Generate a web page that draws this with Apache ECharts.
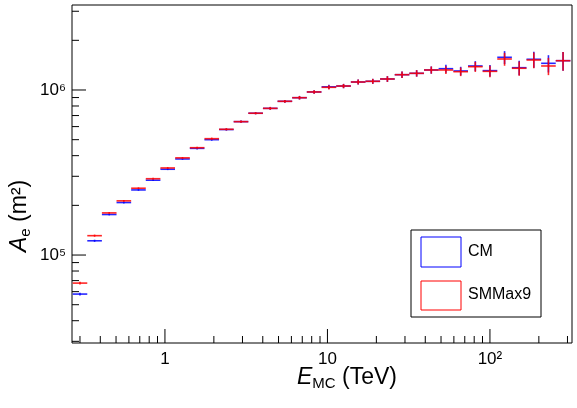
<!DOCTYPE html>
<html><head><meta charset="utf-8">
<script src="https://cdn.jsdelivr.net/npm/echarts@6/dist/echarts.min.js"></script>
<style>html,body{margin:0;padding:0;background:#fff}#c{width:577px;height:408px}</style>
</head><body><div id="c"></div>
<script>
// bin centres, log10(E_MC / TeV)
var logE = [-0.523,-0.433,-0.343,-0.253,-0.163,-0.073,0.017,0.108,0.198,0.288,0.378,0.468,0.558,0.648,0.738,0.828,0.918,1.009,1.099,1.189,1.279,1.369,1.459,1.549,1.639,1.729,1.820,1.910,2.000,2.090,2.180,2.270,2.360,2.450];
// effective area (m^2)
var areaCM = [58000,122000,176000,208000,248000,284000,331000,382000,443000,500000,576000,643000,723000,774000,854000,898000,973000,1045000,1057000,1118000,1129000,1166000,1238000,1262000,1322000,1346000,1304000,1398000,1310000,1578000,1365000,1535000,1451000,1505000];
var areaSMM = [67600,131000,180000,213000,254000,290000,337000,388000,447000,507000,578000,643000,723000,774000,854000,898000,973000,1038000,1057000,1118000,1129000,1166000,1238000,1262000,1322000,1322000,1291000,1384000,1297000,1541000,1354000,1520000,1398000,1505000];
// relative statistical error
var relErr = [0.02,0.015,0.012,0.012,0.012,0.012,0.012,0.012,0.015,0.015,0.015,0.015,0.015,0.02,0.02,0.025,0.025,0.03,0.03,0.035,0.035,0.04,0.045,0.045,0.05,0.055,0.06,0.07,0.08,0.09,0.1,0.11,0.12,0.13];
var xTickMajor = [0,1,2];
var xTickLabels = ['1','10','10²'];
var yTickMajor = [5,6];
var yTickLabels = ['10⁵','10⁶'];
var halfBin = 0.045;

var chart = echarts.init(document.getElementById('c'));

function series(name, vals, color, z) {
  return {
    name: name, type: 'custom', z: z,
    data: logE.map(function (x, i) { return [x, Math.log10(vals[i]), Math.log10(1 + relErr[i]), Math.log10(1 - relErr[i])]; }),
    renderItem: function (params, api) {
      var x = api.value(0), y = api.value(1);
      var a = api.coord([x - halfBin, y]), b = api.coord([x + halfBin, y]);
      var t = api.coord([x, y + api.value(2)]), d = api.coord([x, y + api.value(3)]);
      var st = { stroke: color, lineWidth: 1.6, opacity: 0.85 };
      return { type: 'group', children: [
        { type: 'line', shape: { x1: a[0], y1: a[1], x2: b[0], y2: b[1] }, style: st },
        { type: 'line', shape: { x1: t[0], y1: t[1], x2: d[0], y2: d[1] }, style: st }
      ]};
    }
  };
}

// axis ticks built from decade positions
var ticks = [];
[-1,0,1,2].forEach(function (dec) {
  for (var k = 1; k < 10; k++) {
    var v = dec + Math.log10(k);
    if (v > -0.572 && v < 2.505) ticks.push(['x', v, k === 1]);
  }
});
[4,5,6].forEach(function (dec) {
  for (var k = 1; k < 10; k++) {
    var v = dec + Math.log10(k);
    if (v > 4.467 && v < 6.515) ticks.push(['y', v, k === 1]);
  }
});

var tickSeries = {
  type: 'custom', z: 1, silent: true,
  data: ticks.map(function (t, i) { return [i]; }),
  renderItem: function (params, api) {
    var t = ticks[api.value(0)];
    var len = t[2] ? 14 : 7, children = [];
    var st = { stroke: '#000', lineWidth: 1 };
    if (t[0] === 'x') {
      var p = api.coord([t[1], 4.467]);
      children.push({ type: 'line', shape: { x1: p[0], y1: p[1], x2: p[0], y2: p[1] - len }, style: st });
      var mi = xTickMajor.indexOf(Math.round(t[1]));
      if (t[2] && mi >= 0) children.push({ type: 'text', x: p[0], y: p[1] + 8,
        style: { text: xTickLabels[mi], fontFamily: 'Liberation Sans', fontSize: 17, align: 'center', verticalAlign: 'top', fill: '#000' } });
    } else {
      var q = api.coord([-0.572, t[1]]);
      children.push({ type: 'line', shape: { x1: q[0], y1: q[1], x2: q[0] + len, y2: q[1] }, style: st });
      var yi = yTickMajor.indexOf(Math.round(t[1]));
      if (t[2] && yi >= 0) children.push({ type: 'text', x: q[0] - 6, y: q[1],
        style: { text: yTickLabels[yi], fontFamily: 'Liberation Sans', fontSize: 17, align: 'right', verticalAlign: 'middle', fill: '#000' } });
    }
    return { type: 'group', children: children };
  }
};

var titleRich = {
  i: { fontStyle: 'italic', fontSize: 23, fontFamily: 'Liberation Sans' },
  n: { fontSize: 23, fontFamily: 'Liberation Sans' },
  s: { fontSize: 15, verticalAlign: 'bottom', padding: [12, 0, 0, 0], fontFamily: 'Liberation Sans' }
};

chart.setOption({
  animation: false,
  grid: { left: 72, right: 5, top: 5, bottom: 65, show: true, borderColor: '#000', borderWidth: 1 },
  xAxis: { type: 'value', min: -0.572, max: 2.505, axisLine: { show: false }, axisTick: { show: false }, axisLabel: { show: false }, splitLine: { show: false } },
  yAxis: { type: 'value', min: 4.467, max: 6.515, axisLine: { show: false }, axisTick: { show: false }, axisLabel: { show: false }, splitLine: { show: false } },
  series: [tickSeries, series('CM', areaCM, '#0000ff', 2), series('SMMax9', areaSMM, '#ff0000', 3)],
  graphic: [
    { type: 'text', left: 297, top: 366, style: { text: '{i|E}{s|MC}{n| (TeV)}', fill: '#000', rich: titleRich } },
    { type: 'text', x: 6, y: 252, rotation: Math.PI / 2, style: { text: '{i|A}{s|e}{n| (m²)}', fill: '#000', rich: titleRich } },
    { type: 'rect', shape: { x: 411, y: 230, width: 130, height: 87 }, style: { fill: '#fff', stroke: '#000', lineWidth: 1 } },
    { type: 'rect', shape: { x: 421, y: 237, width: 40, height: 30 }, style: { fill: '#fff', stroke: '#0000ff', lineWidth: 1 } },
    { type: 'rect', shape: { x: 421, y: 281, width: 40, height: 29 }, style: { fill: '#fff', stroke: '#ff0000', lineWidth: 1 } },
    { type: 'text', x: 468, y: 252, style: { text: 'CM', fontFamily: 'Liberation Sans', fontSize: 16, verticalAlign: 'middle', fill: '#000' } },
    { type: 'text', x: 468, y: 295, style: { text: 'SMMax9', fontFamily: 'Liberation Sans', fontSize: 16, verticalAlign: 'middle', fill: '#000' } }
  ]
});
</script></body></html>
